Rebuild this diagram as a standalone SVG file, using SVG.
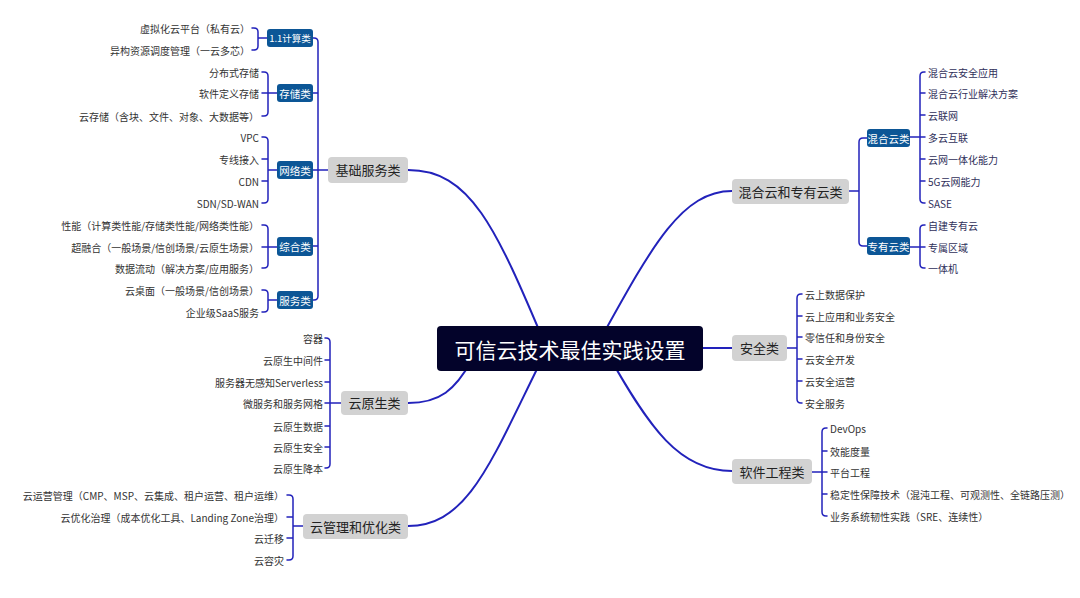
<svg xmlns="http://www.w3.org/2000/svg" width="1080" height="598" viewBox="0 0 1080 598">
<style>
text{font-family:"Noto Sans CJK SC","Noto Sans",sans-serif;}
.leaf{font-size:10px;fill:#333;dominant-baseline:central;}
.leafR{font-size:10px;fill:#30305a;dominant-baseline:central;}
.sub rect{fill:#0c5696;}
.sub text{font-size:10.5px;fill:#fff;text-anchor:middle;dominant-baseline:central;}
.main rect{fill:#d2d2d2;}
.main text{font-size:13px;fill:#222;text-anchor:middle;dominant-baseline:central;}
.conn path{fill:none;stroke:#2222bb;stroke-width:1.5;stroke-linecap:round;}
.conn .thick{stroke-width:2;}
.end{text-anchor:end;}
</style>
<rect width="1080" height="598" fill="#fff"/>
<g id="connectors" class="conn">
<path class="thick" d="M408,170 C470,170 495,225 547,349"/>
<path class="thick" d="M732,191 C680,191 650,250 595,349"/>
<path class="thick" d="M408,403 C440,403 455,390 472,360"/>
<path class="thick" d="M408,526 C470,526 492,458 547,349"/>
<path class="thick" d="M732,471 C680,471 650,430 605,349"/>
<path class="thick" d="M700,348 H732"/>
<!-- 基础服务类 trunk -->
<path d="M313,38 H314 Q318,38 318,42 V296 Q318,300 314,300 H313 M313,93 H318 M313,170 H328 M313,246 H318"/>
<!-- 1.1计算类 -->
<path d="M252,28 H254 Q258,28 258,32 V46 Q258,50 254,50 H252 M258,38 H267"/>
<!-- 存储类 -->
<path d="M262,72 H264 Q268,72 268,76 V112 Q268,116 264,116 H262 M262,93 H277"/>
<!-- 网络类 -->
<path d="M262,137 H264 Q268,137 268,141 V199 Q268,203 264,203 H262 M262,159 H268 M262,181 H268 M268,170 H277"/>
<!-- 综合类 -->
<path d="M262,225 H264 Q268,225 268,229 V264 Q268,268 264,268 H262 M262,247 H277"/>
<!-- 服务类 -->
<path d="M262,290 H264 Q268,290 268,294 V308 Q268,312 264,312 H262 M268,300 H277"/>
<!-- 云原生类 -->
<path d="M325,338 H326 Q330,338 330,342 V464 Q330,468 326,468 H325 M325,360 H330 M325,382 H330 M325,403 H341 M325,426 H330 M325,447 H330"/>
<!-- 云管理和优化类 -->
<path d="M287,495 H289 Q293,495 293,499 V556 Q293,560 289,560 H287 M287,517 H293 M287,538 H293 M293,526 H303"/>
<!-- 混合云和专有云类 -->
<path d="M849,191 H859 M867,138 H863 Q859,138 859,142 V242 Q859,246 863,246 H867"/>
<!-- 混合云类 -->
<path d="M925,72 H924 Q920,72 920,76 V199 Q920,203 924,203 H925 M925,93 H920 M925,115 H920 M910,137 H925 M925,159 H920 M925,181 H920"/>
<!-- 专有云类 -->
<path d="M925,225 H924 Q920,225 920,229 V264 Q920,268 924,268 H925 M910,247 H925"/>
<!-- 安全类 -->
<path d="M802,294 H801 Q797,294 797,298 V399 Q797,403 801,403 H802 M802,316 H797 M802,337 H797 M802,359 H797 M802,381 H797 M787,348 H797"/>
<!-- 软件工程类 -->
<path d="M827,428 H826 Q822,428 822,432 V512 Q822,516 826,516 H827 M827,451 H822 M812,472 H827 M827,494 H822"/>
</g>

<g id="center">
<rect x="437" y="326" width="266" height="45" rx="4" fill="#03032a"/>
<text x="570" y="348.5" font-size="21" fill="#fff" text-anchor="middle" dominant-baseline="central">可信云技术最佳实践设置</text>
</g>

<g id="n-jichu" class="main"><rect x="328" y="157" width="80" height="26" rx="4"/><text x="368" y="169.5">基础服务类</text></g>
<g id="n-yunyuansheng" class="main"><rect x="341" y="391" width="67" height="24" rx="4"/><text x="374.5" y="402.5">云原生类</text></g>
<g id="n-guanli" class="main"><rect x="303" y="514" width="105" height="25" rx="4"/><text x="355.5" y="526">云管理和优化类</text></g>
<g id="n-hunhe" class="main"><rect x="732" y="179" width="117" height="25" rx="4"/><text x="790.5" y="191">混合云和专有云类</text></g>
<g id="n-anquan" class="main"><rect x="732" y="335" width="55" height="26" rx="4"/><text x="759.5" y="347.5">安全类</text></g>
<g id="n-ruanjian" class="main"><rect x="732" y="459" width="80" height="25" rx="4"/><text x="772" y="471">软件工程类</text></g>

<g id="s-jisuan" class="sub"><rect x="267" y="29" width="46" height="18" rx="3"/><text x="290" y="38" style="font-size:9.5px">1.1计算类</text></g>
<g id="s-cunchu" class="sub"><rect x="277" y="84" width="36" height="18" rx="3"/><text x="295" y="93">存储类</text></g>
<g id="s-wangluo" class="sub"><rect x="277" y="161" width="36" height="18" rx="3"/><text x="295" y="170">网络类</text></g>
<g id="s-zonghe" class="sub"><rect x="277" y="237" width="36" height="19" rx="3"/><text x="295" y="246.5">综合类</text></g>
<g id="s-fuwu" class="sub"><rect x="277" y="291" width="36" height="18" rx="3"/><text x="295" y="300">服务类</text></g>
<g id="s-hunheyun" class="sub"><rect x="867" y="129" width="43" height="18" rx="3"/><text x="888.5" y="138">混合云类</text></g>
<g id="s-zhuanyouyun" class="sub"><rect x="867" y="237" width="43" height="18" rx="3"/><text x="888.5" y="246">专有云类</text></g>

<g id="leaves-left">
<text class="leaf end" x="250" y="28">虚拟化云平台（私有云）</text>
<text class="leaf end" x="250" y="50">异构资源调度管理（一云多芯）</text>
<text class="leaf end" x="259" y="72">分布式存储</text>
<text class="leaf end" x="259" y="93">软件定义存储</text>
<text class="leaf end" x="259" y="116">云存储（含块、文件、对象、大数据等）</text>
<text class="leaf end" x="259" y="137">VPC</text>
<text class="leaf end" x="259" y="159">专线接入</text>
<text class="leaf end" x="259" y="181">CDN</text>
<text class="leaf end" x="259" y="203">SDN/SD-WAN</text>
<text class="leaf end" x="259" y="225">性能（计算类性能/存储类性能/网络类性能）</text>
<text class="leaf end" x="259" y="247">超融合（一般场景/信创场景/云原生场景）</text>
<text class="leaf end" x="259" y="268">数据流动（解决方案/应用服务）</text>
<text class="leaf end" x="259" y="290">云桌面（一般场景/信创场景）</text>
<text class="leaf end" x="259" y="312">企业级SaaS服务</text>
<text class="leaf end" x="323" y="338">容器</text>
<text class="leaf end" x="323" y="360">云原生中间件</text>
<text class="leaf end" x="323" y="382">服务器无感知Serverless</text>
<text class="leaf end" x="323" y="403">微服务和服务网格</text>
<text class="leaf end" x="323" y="426">云原生数据</text>
<text class="leaf end" x="323" y="447">云原生安全</text>
<text class="leaf end" x="323" y="468">云原生降本</text>
<text class="leaf end" x="284" y="495">云运营管理（CMP、MSP、云集成、租户运营、租户运维）</text>
<text class="leaf end" x="284" y="517">云优化治理（成本优化工具、Landing Zone治理）</text>
<text class="leaf end" x="284" y="538">云迁移</text>
<text class="leaf end" x="284" y="560">云容灾</text>
</g>

<g id="leaves-right">
<text class="leafR" x="928" y="72">混合云安全应用</text>
<text class="leafR" x="928" y="93">混合云行业解决方案</text>
<text class="leafR" x="928" y="115">云联网</text>
<text class="leafR" x="928" y="137">多云互联</text>
<text class="leafR" x="928" y="159">云网一体化能力</text>
<text class="leafR" x="928" y="181">5G云网能力</text>
<text class="leafR" x="928" y="203">SASE</text>
<text class="leafR" x="928" y="225">自建专有云</text>
<text class="leafR" x="928" y="247">专属区域</text>
<text class="leafR" x="928" y="268">一体机</text>
<text class="leaf" x="805" y="294">云上数据保护</text>
<text class="leaf" x="805" y="316">云上应用和业务安全</text>
<text class="leaf" x="805" y="337">零信任和身份安全</text>
<text class="leaf" x="805" y="359">云安全开发</text>
<text class="leaf" x="805" y="381">云安全运营</text>
<text class="leaf" x="805" y="403">安全服务</text>
<text class="leaf" x="830" y="428">DevOps</text>
<text class="leaf" x="830" y="451">效能度量</text>
<text class="leaf" x="830" y="472">平台工程</text>
<text class="leaf" x="830" y="494">稳定性保障技术（混沌工程、可观测性、全链路压测）</text>
<text class="leaf" x="830" y="516">业务系统韧性实践（SRE、连续性）</text>
</g>
</svg>
